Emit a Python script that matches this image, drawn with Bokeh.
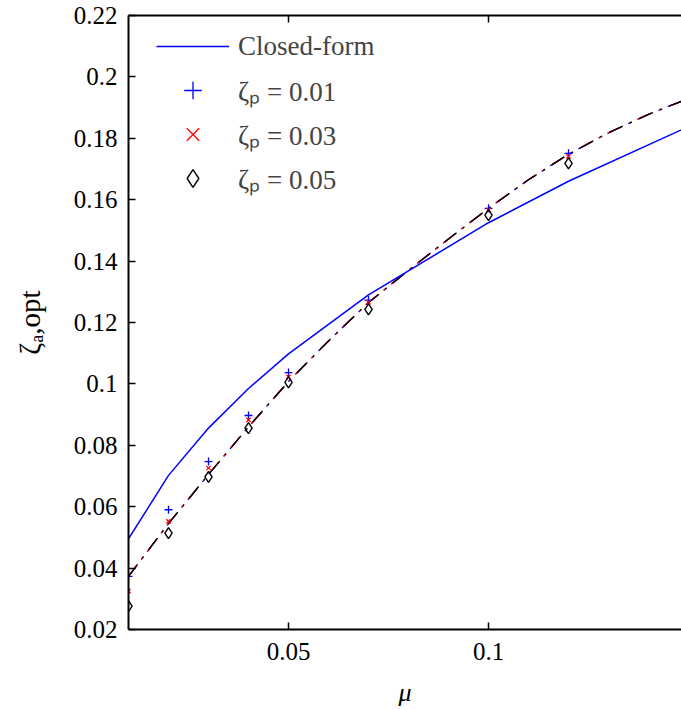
from bokeh.plotting import figure
from bokeh.models import (Range1d, FixedTicker, LinearAxis, Legend, LegendItem,
                          CustomJSTickFormatter, CustomLabelingPolicy)
from bokeh.embed import file_html
from bokeh.resources import INLINE

# ---- data ----
mu = [0.01, 0.02, 0.03, 0.04, 0.05, 0.07, 0.10, 0.12]
zeta_p001 = [0.0373, 0.0590, 0.0747, 0.0897, 0.1037, 0.1273, 0.1572, 0.1751]
zeta_p003 = [0.0325, 0.0552, 0.0726, 0.0883, 0.1023, 0.1266, 0.1566, 0.1741]
zeta_p005 = [0.0276, 0.0514, 0.0697, 0.0856, 0.1005, 0.1243, 0.1550, 0.1718]

mu_closed = [0.01, 0.02, 0.03, 0.04, 0.05, 0.07, 0.10, 0.12, 0.15]
zeta_closed = [0.0495, 0.0702, 0.0856, 0.0985, 0.1098, 0.1290, 0.1525, 0.1660, 0.1838]

mu_fit = [0.01, 0.02, 0.03, 0.04, 0.05, 0.06, 0.07, 0.08, 0.09, 0.10, 0.11, 0.12, 0.13, 0.14, 0.15]
zeta_fit = [0.0373, 0.0545, 0.0705, 0.0860, 0.1008, 0.1140, 0.1265, 0.1370, 0.1472,
            0.1572, 0.1665, 0.1748, 0.1818, 0.1878, 0.1930]

x_ticks = [0.05, 0.10]
x_tick_labels = ["0.05", "0.1"]
y_ticks = [0.02, 0.04, 0.06, 0.08, 0.10, 0.12, 0.14, 0.16, 0.18, 0.20, 0.22]
y_tick_labels = ["0.02", "0.04", "0.06", "0.08", "0.1", "0.12", "0.14", "0.16", "0.18", "0.2", "0.22"]

legend_labels = ["Closed-form", "ζₚ = 0.01", "ζₚ = 0.03", "ζₚ = 0.05"]

FONT = "Liberation Serif"
FS = "25px"

LABEL_CODE = """
let best = 0, bd = Infinity;
for (let i = 0; i < tv.length; i++) {
  const d = Math.abs(tv[i] - tick);
  if (d < bd) { bd = d; best = i; }
}
return tl[best];
"""

p = figure(width=681, height=709, output_backend="svg", toolbar_location=None,
           x_range=Range1d(0.01, 0.14825), y_range=Range1d(0.02, 0.22),
           min_border_left=128, min_border_right=0, min_border_top=15, min_border_bottom=79)
p.xgrid.visible = False
p.ygrid.visible = False
p.outline_line_color = None
p.background_fill_color = "white"
p.border_fill_color = "white"

for ax in (p.xaxis[0], p.yaxis[0]):
    ax.axis_line_width = 2
    ax.axis_line_color = "black"
    ax.major_tick_in = 7
    ax.major_tick_out = 0
    ax.major_tick_line_width = 1.5
    ax.minor_tick_line_color = None
    ax.major_label_text_font = FONT
    ax.major_label_text_font_size = FS
    ax.major_label_text_color = "black"
    ax.axis_label_text_font = FONT
    ax.axis_label_text_color = "black"

p.xaxis[0].ticker = FixedTicker(ticks=x_ticks)
p.xaxis[0].formatter = CustomJSTickFormatter(args=dict(tv=x_ticks, tl=x_tick_labels), code=LABEL_CODE)
p.xaxis[0].major_label_standoff = 13
p.xaxis[0].axis_label = "μ"
p.xaxis[0].axis_label_text_font_size = "26px"
p.xaxis[0].axis_label_text_font_style = "italic"
p.xaxis[0].axis_label_standoff = 15

p.yaxis[0].ticker = FixedTicker(ticks=y_ticks)
p.yaxis[0].formatter = CustomJSTickFormatter(args=dict(tv=y_ticks, tl=y_tick_labels), code=LABEL_CODE)
p.yaxis[0].major_label_standoff = 11
p.yaxis[0].axis_label = "ζₐ,opt"
p.yaxis[0].axis_label_text_font_size = "29px"
p.yaxis[0].axis_label_text_font_style = "normal"
p.yaxis[0].axis_label_standoff = 25

# top frame line with inward ticks, no labels
top = LinearAxis(ticker=FixedTicker(ticks=x_ticks), axis_line_width=2,
                 major_tick_in=7, major_tick_out=0, major_tick_line_width=1.5,
                 minor_tick_line_color=None, major_label_standoff=0,
                 major_label_policy=CustomLabelingPolicy(
                     code="return new indices.constructor(indices.size, 0)"))
p.add_layout(top, "above")

# fitted dash-dot curves (overlapping)
DASH = "15 8 2 8"
p.line(mu_fit, zeta_fit, line_color="#0000ff", line_width=1.4, line_dash=DASH, line_dash_offset=2)
p.line(mu_fit, zeta_fit, line_color="#ff0000", line_width=1.4, line_dash=DASH, line_dash_offset=1)
p.line(mu_fit, zeta_fit, line_color="black", line_width=1.4, line_dash=DASH)

r_closed = p.line(mu_closed, zeta_closed, line_color="#0000ff", line_width=1.5)
r1 = p.scatter(mu, zeta_p001, marker="cross", size=8, line_color="#0000ff", line_width=1.3)
r2 = p.scatter(mu, zeta_p003, marker="x", size=6, line_color="#ff0000", line_width=1.3)
r3 = p.scatter(mu, zeta_p005, marker="diamond", size=11, fill_color=None, line_color="black", line_width=1.4)

legend = Legend(items=[LegendItem(label=legend_labels[0], renderers=[r_closed]),
                       LegendItem(label=legend_labels[1], renderers=[r1]),
                       LegendItem(label=legend_labels[2], renderers=[r2]),
                       LegendItem(label=legend_labels[3], renderers=[r3])],
                location=(28, 429), glyph_width=73, glyph_height=44, label_height=44,
                spacing=0, padding=0, margin=0, label_standoff=9,
                border_line_color=None, background_fill_alpha=0,
                label_text_font=FONT, label_text_font_size="27px")
p.add_layout(legend)

open("out.html", "w").write(file_html(p, INLINE))
